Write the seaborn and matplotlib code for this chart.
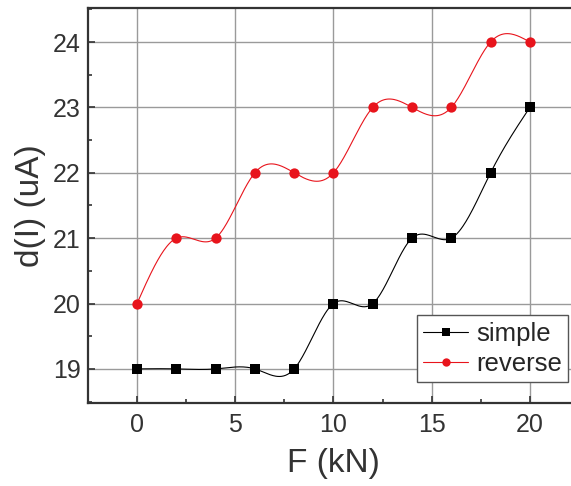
import numpy as np
import pandas as pd
import matplotlib
matplotlib.use("Agg")
import matplotlib.pyplot as plt
import seaborn as sns
from matplotlib.lines import Line2D
from matplotlib.ticker import MultipleLocator

force = [0, 2, 4, 6, 8, 10, 12, 14, 16, 18, 20]
simple = [19, 19, 19, 19, 19, 20, 20, 21, 21, 22, 23]
reverse = [20, 21, 21, 22, 22, 22, 23, 23, 23, 24, 24]


def spline_curve(x, y, n=400):
    # natural cubic spline, only used to draw the connecting line
    x = np.asarray(x, float)
    y = np.asarray(y, float)
    k = len(x)
    h = np.diff(x)
    A = np.zeros((k, k))
    b = np.zeros(k)
    A[0, 0] = A[-1, -1] = 1
    for i in range(1, k - 1):
        A[i, i - 1] = h[i - 1]
        A[i, i] = 2 * (h[i - 1] + h[i])
        A[i, i + 1] = h[i]
        b[i] = 6 * ((y[i + 1] - y[i]) / h[i] - (y[i] - y[i - 1]) / h[i - 1])
    M = np.linalg.solve(A, b)
    xs = np.linspace(x[0], x[-1], n)
    idx = np.clip(np.searchsorted(x, xs) - 1, 0, k - 2)
    x0, x1 = x[idx], x[idx + 1]
    hi = x1 - x0
    ys = (M[idx] * (x1 - xs) ** 3 / (6 * hi) + M[idx + 1] * (xs - x0) ** 3 / (6 * hi)
          + (y[idx] / hi - M[idx] * hi / 6) * (x1 - xs)
          + (y[idx + 1] / hi - M[idx + 1] * hi / 6) * (xs - x0))
    return xs, ys


sns.set_style("ticks")
plt.rcParams["font.family"] = ["Liberation Sans", "DejaVu Sans"]

fig = plt.figure(figsize=(5.71, 4.86), dpi=100)
ax = fig.add_axes([0.154, 0.171, 0.86, 0.8125])

series = {"simple": (simple, "black", "s"), "reverse": (reverse, "#e8141c", "o")}
handles = []
for name, (vals, color, marker) in series.items():
    xs, ys = spline_curve(force, vals)
    sns.lineplot(x=xs, y=ys, ax=ax, color=color, linewidth=0.8, sort=False)
    df = pd.DataFrame({"F": force, "I": vals})
    sns.scatterplot(data=df, x="F", y="I", ax=ax, color=color, marker=marker,
                    s=55, edgecolor=color, linewidth=0, zorder=3)
    handles.append(Line2D([0], [0], color=color, lw=0.8, marker=marker,
                          markersize=6, markeredgewidth=0, label=name))

ax.set_xlim(-2.5, 22.5)
ax.set_ylim(18.48, 24.52)
ax.xaxis.set_major_locator(MultipleLocator(5))
ax.xaxis.set_minor_locator(MultipleLocator(2.5))
ax.yaxis.set_major_locator(MultipleLocator(1))
ax.yaxis.set_minor_locator(MultipleLocator(0.5))
ax.tick_params(which="both", direction="in", width=1.2, color="#333333")
ax.tick_params(which="major", length=5, labelsize=18, colors="#333333")
ax.tick_params(axis="x", which="major", pad=7)
ax.tick_params(axis="y", which="major", pad=5)
ax.tick_params(which="minor", length=3)
ax.grid(True, which="major", color="#9a9a9a", linewidth=1.0)
for sp in ax.spines.values():
    sp.set_visible(True)
    sp.set_linewidth(1.6)
    sp.set_color("#333333")

ax.set_xlabel("F (kN)", fontsize=24, color="#333333", labelpad=8)
ax.set_ylabel("d(I) (uA)", fontsize=24, color="#333333", labelpad=5)

ax.legend(handles=handles, loc="lower right", bbox_to_anchor=(0.978, 0.053),
          fontsize=18.5, frameon=True, fancybox=False, edgecolor="#555555",
          framealpha=1, handlelength=1.75, handletextpad=0.3, borderpad=0.25,
          labelspacing=0.22, borderaxespad=0)

fig.savefig("out.png", dpi=100)
